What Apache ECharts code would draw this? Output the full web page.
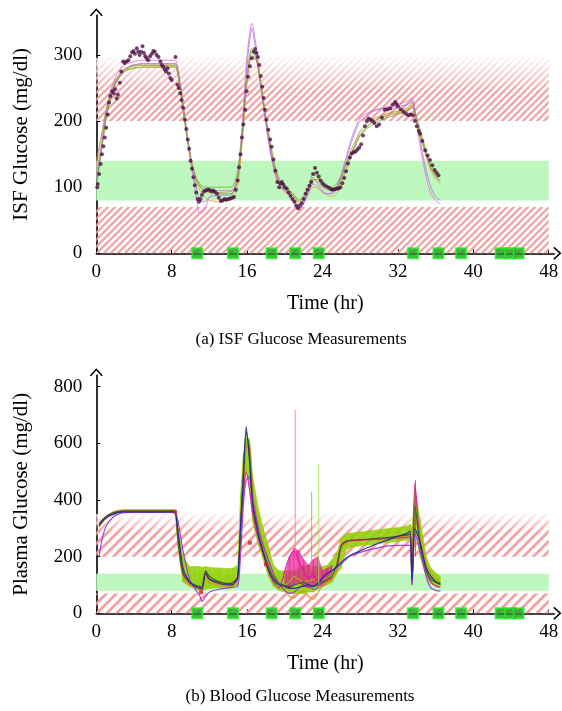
<!DOCTYPE html>
<html><head><meta charset="utf-8">
<script src="https://cdn.jsdelivr.net/npm/echarts@6/dist/echarts.min.js"></script>
<style>html,body{margin:0;padding:0;background:#fff}#c{width:562px;height:711px}</style>
</head><body><div id="c"></div>
<script>
// ---------- DATA ----------
const xTicks = [0, 8, 16, 24, 32, 40, 48];
const isfTicks = [0, 100, 200, 300];
const plasmaTicks = [0, 200, 400, 600, 800];
const redBandLow = [0, 70];
const redBandHighIsf = [200, 295];
const redBandHighPlasma = [200, 350];
const greenBand = [80, 140];
const mealTimes = [10.7, 14.5, 18.6, 21.1, 23.6, 33.6, 36.3, 38.7, 42.9, 43.9, 44.8];

// (a) ISF measured points
const isfMeasT = [0.1,0.15,0.3,0.45,0.6,0.75,0.9,1.05,1.2,1.35,1.5,1.7,1.85,2.0,2.15,2.3,2.5,2.65,2.85,3.0,3.2,3.4,3.6,3.8,3.95,4.1,4.3,4.45,4.6,4.75,4.9,5.05,5.2,5.35,5.5,5.7,5.9,6.05,6.2,6.4,6.6,6.8,6.95,7.1,7.25,7.4,7.55,7.7,7.85,8.0,8.4,8.6,8.75,8.9,9.05,9.2,9.4,9.55,9.7,9.85,10.0,10.15,10.3,10.45,10.6,10.75,10.9,11.05,11.2,11.4,11.6,11.8,12.0,12.2,12.4,12.6,12.8,13.0,13.2,13.4,13.6,13.8,14.0,14.2,14.4,14.6,14.8,15.0,15.15,15.3,15.45,15.6,15.8,15.95,16.1,16.3,16.5,16.7,16.85,17.0,17.15,17.3,17.45,17.6,17.75,17.9,18.05,18.25,18.45,18.6,18.8,19.0,19.2,19.4,19.55,19.7,19.85,20.0,20.2,20.4,20.6,20.8,21.0,21.2,21.4,21.6,21.8,22.0,22.2,22.4,22.6,22.8,23.0,23.2,23.4,23.6,23.8,24.0,24.2,24.45,24.7,24.9,25.1,25.3,25.5,25.7,25.9,26.1,26.3,26.5,26.7,26.9,27.1,27.3,27.5,27.7,27.9,28.1,28.3,28.5,28.7,28.9,29.1,29.3,29.5,29.75,30.0,30.3,30.6,30.9,31.2,31.45,31.7,31.85,32.0,32.3,32.6,32.85,33.1,33.35,33.6,33.8,34.0,34.2,34.35,34.6,34.9,35.15,35.4,35.65,35.9,36.1,36.3];
const isfMeasV = [100,105,120,135,150,162,175,190,210,228,238,245,242,248,234,240,258,275,290,288,290,292,298,304,306,302,310,305,300,305,313,303,298,295,292,298,302,306,305,300,297,290,285,282,278,275,280,272,265,262,297,255,250,242,232,220,202,188,172,158,140,128,115,103,92,82,78,82,88,93,95,96,96,94,95,93,90,84,79,80,82,81,82,83,84,85,96,110,130,150,175,195,217,245,267,283,295,305,309,303,297,285,268,252,235,217,202,187,172,161,142,125,108,100,106,108,104,100,98,92,87,82,78,72,68,72,76,82,90,96,102,108,120,129,122,116,110,106,103,101,99,97,96,97,98,98,100,106,114,124,136,145,151,153,154,157,160,165,178,192,200,204,202,200,197,192,195,205,217,218,219,225,229,226,222,218,214,211,209,210,209,200,192,185,181,170,156,148,141,133,126,122,118];

// (a) ISF model traces
const tModel = [0,0.5,1,1.5,2,2.5,3,4,5,6,7,8,8.4,9,9.5,10,10.5,11,11.5,12,13,14,14.5,15,15.5,16,16.5,17,17.5,18,18.5,19,19.5,20,20.5,21,21.5,22,22.5,23,23.5,24,24.5,25,25.5,26,26.5,27,27.5,28,29,30,31,32,33,33.5,34,34.5,35,35.5,36,36.5];
const isfModelA = [100,150,200,235,255,268,277,283,284,284,284,284,284,240,190,145,115,100,95,92,90,90,92,110,180,270,310,295,250,200,160,125,105,98,92,85,75,82,95,110,112,105,100,98,100,115,135,155,170,185,200,207,212,215,220,228,200,175,150,130,118,110];
const isfModelB = [130,170,210,240,258,270,276,280,281,281,281,281,281,235,185,140,110,95,85,80,78,80,82,100,170,260,300,290,245,195,155,120,100,92,88,82,72,80,92,100,98,92,88,86,90,105,125,145,162,178,195,205,210,213,218,224,195,170,145,125,112,105];
const isfModelC = [120,160,210,245,265,278,285,290,292,292,292,292,292,250,195,140,95,60,65,85,95,95,96,120,200,300,348,310,250,195,150,118,100,95,90,80,65,75,95,115,105,95,90,90,95,115,140,165,185,200,212,218,222,225,230,235,195,150,115,90,80,75];
const isfModelD = [110,155,205,238,258,270,279,285,287,287,287,287,287,243,192,143,105,80,78,85,88,88,90,115,190,285,340,300,248,198,152,120,102,95,88,78,68,76,90,105,100,93,90,92,100,120,145,170,190,205,214,218,220,222,225,230,200,160,125,100,85,80];
const isfModelE = [105,150,200,235,255,267,275,280,282,282,282,282,282,238,188,145,118,105,100,100,100,100,102,125,185,265,305,292,252,205,165,130,110,100,95,88,80,88,100,120,115,105,100,100,105,118,135,150,165,178,192,200,206,210,215,220,205,180,155,135,122,115];
const isfModelF = [140,175,215,242,260,272,279,285,286,286,286,286,286,245,195,148,118,102,96,94,92,93,95,112,175,262,298,292,255,205,162,128,108,100,95,88,78,85,98,112,108,100,96,95,98,110,128,148,165,180,196,204,209,212,216,222,198,172,148,128,116,108];

// (b) Plasma traces
const tPlasma = [0.3,0.6,1,1.5,2,2.5,3,4,5,6,7,8,8.35,8.7,9.2,9.9,10.5,11,11.2,11.6,12,13,14,14.5,15,15.3,15.6,15.9,16.2,16.6,17.2,17.7,18.25,18.8,19.4,20,20.5,21,21.5,22,22.5,23,23.5,24,24.5,25,25.5,26,26.5,27,28,29,30,31,32,33,33.3,33.5,33.8,34.35,35,35.5,36.1,36.5];
const plasmaNavy = [310,322,335,345,352,357,358,358,358,358,358,358,358,280,160,110,95,88,85,140,120,105,100,102,125,300,470,659,560,380,275,215,155,118,100,95,90,88,92,96,100,95,105,125,140,150,165,180,195,205,220,235,248,260,272,282,290,120,300,250,160,130,110,105];
const plasmaPurple = [200,260,305,330,345,352,355,356,356,356,356,356,356,320,220,120,85,60,41,60,75,85,90,92,95,200,380,470,482,400,300,240,190,140,105,80,70,75,90,100,95,85,90,120,140,150,160,175,190,205,215,225,232,238,240,240,240,100,280,220,130,90,80,78];
const plasmaDarkGreen = [315,328,340,350,356,360,362,362,362,362,362,362,362,250,140,110,100,95,92,150,130,112,105,108,130,310,500,640,590,400,280,220,165,125,105,98,95,100,105,110,100,95,100,110,120,130,170,240,255,258,260,262,265,268,272,276,280,110,380,240,150,120,108,102];
const plasmaOrange = [305,320,338,352,360,364,365,365,365,365,365,365,365,240,130,100,88,80,72,130,110,100,95,98,120,280,440,580,600,420,300,240,175,130,100,80,60,55,70,80,60,50,70,100,110,120,150,230,250,255,258,262,265,268,272,276,282,100,360,260,170,130,110,100];
const plasmaMagenta = [310,325,340,350,356,358,358,358,358,358,358,358,358,260,145,108,95,90,88,150,120,110,105,110,130,290,430,500,450,350,260,210,150,110,90,150,200,220,180,150,120,140,100,130,145,150,160,240,252,256,258,260,262,264,266,268,270,105,460,250,150,110,95,92];
const plasmaOlive = [312,326,340,351,357,360,361,361,361,361,361,361,361,230,135,105,92,86,84,145,125,108,100,103,125,320,520,600,615,450,320,250,180,130,105,100,110,130,120,110,115,120,110,115,125,135,175,245,255,258,260,262,264,266,270,274,278,115,420,280,180,140,120,110];
const plasmaEnvLow = [305,318,332,345,352,356,358,358,358,358,358,358,358,230,110,95,88,80,80,85,88,90,90,92,100,250,400,500,470,320,240,190,130,95,80,75,70,70,70,70,75,75,85,95,100,110,140,160,225,232,238,242,246,250,254,258,262,100,300,200,130,105,95,95];
const plasmaEnvHigh = [311,324,338,351,358,362,364,364,364,364,364,364,364,300,200,165,165,165,162,165,162,160,158,160,170,420,560,620,610,480,370,300,240,170,150,150,150,150,160,165,170,165,165,165,170,190,210,265,280,283,287,291,295,299,303,308,315,300,440,330,200,160,140,130];
const tMagentaEnv = [20,20.5,21,21.5,22,22.5,23,23.5,24,24.5,25];
const magentaEnvLow = [90,85,100,110,95,90,95,100,95,110,120];
const magentaEnvHigh = [130,200,230,220,190,170,190,200,150,160,170];
const spikeT = [21.1, 22.85, 23.6, 33.85];
const spikeLow = [150, 150, 100, 200];
const spikeHigh = [718, 429, 529, 470];
const plasmaMeasT = [8.35, 11.1, 16.3, 18.0];
const plasmaMeasV = [358, 74, 249, 173];

// ---------- STYLE ----------
const FONT = 'Liberation Serif';
function hatch(s, w) {
  const c = document.createElement('canvas');
  c.width = s; c.height = s;
  const g = c.getContext('2d');
  g.strokeStyle = '#f4a0a0'; g.lineWidth = w; g.lineCap = 'square';
  g.beginPath();
  g.moveTo(0, s); g.lineTo(s, 0);
  g.moveTo(-s/4, s/4); g.lineTo(s/4, -s/4);
  g.moveTo(3*s/4, 5*s/4); g.lineTo(5*s/4, 3*s/4);
  g.stroke();
  return { image: c, repeat: 'repeat' };
}
const hatchTop = hatch(7, 2.2);
const hatchBottom = hatch(10, 2.8);
const fade = { type: 'linear', x: 0, y: 0, x2: 0, y2: 1, colorStops: [
  { offset: 0, color: 'rgba(255,255,255,0.92)' }, { offset: 1, color: 'rgba(255,255,255,0)' }] };
const chevron = 'path://M0,11 L10,0 L20,11 L18,12.5 L10,3.5 L2,12.5 Z';

function bands(hiBand, fadeFrom, pat) {
  return {
    type: 'line', data: [], z: 1, silent: true,
    markArea: { silent: true, z: 1, data: [
      [{ xAxis: 0, yAxis: redBandLow[0], itemStyle: { color: pat } }, { xAxis: 48, yAxis: redBandLow[1] }],
      [{ xAxis: 0, yAxis: hiBand[0], itemStyle: { color: pat } }, { xAxis: 48, yAxis: hiBand[1] }],
      [{ xAxis: 0, yAxis: fadeFrom, itemStyle: { color: fade } }, { xAxis: 48, yAxis: hiBand[1] }],
      [{ xAxis: 0, yAxis: greenBand[0], itemStyle: { color: '#bff8bf' } }, { xAxis: 48, yAxis: greenBand[1] }]
    ] }
  };
}
function axisX(idx) {
  return {
    gridIndex: idx, type: 'value', min: 0, max: 48.6,
    name: 'Time (hr)', nameLocation: 'middle', nameGap: 40,
    nameTextStyle: { fontFamily: FONT, fontSize: 20, color: '#000' },
    axisLine: { lineStyle: { color: '#000', width: 1.6 }, symbol: ['none', chevron], symbolSize: [13, 9], symbolOffset: [0, 3] },
    axisTick: { customValues: xTicks, inside: true, length: 4, lineStyle: { color: '#000' } },
    axisLabel: { customValues: xTicks, margin: 9, fontFamily: FONT, fontSize: 19, color: '#000' },
    splitLine: { show: false }
  };
}
function axisY(idx, max, ticks, name) {
  return {
    gridIndex: idx, type: 'value', min: 0, max: max,
    name: name, nameLocation: 'middle', nameGap: 64,
    nameTextStyle: { fontFamily: FONT, fontSize: 21, color: '#000' },
    axisLine: { show: true, lineStyle: { color: '#000', width: 1.6 }, symbol: ['none', chevron], symbolSize: [13, 9], symbolOffset: [0, 3] },
    axisTick: { show: true, customValues: ticks, inside: true, length: 4, lineStyle: { color: '#000' } },
    axisLabel: { customValues: ticks, margin: 14, fontFamily: FONT, fontSize: 19, color: '#000' },
    splitLine: { show: false }
  };
}
const pair = (ts, vs) => ts.map((t, i) => [t, vs[i]]);
function trace(data, color, xi, w, op) {
  return { type: 'line', xAxisIndex: xi, yAxisIndex: xi, data: data, showSymbol: false, smooth: 0.25, z: 3,
    lineStyle: { color: color, width: w || 1, opacity: op || 0.85 }, silent: true };
}
function meals(xi) {
  return { type: 'scatter', xAxisIndex: xi, yAxisIndex: xi, data: mealTimes.map(t => [t, 0]), symbol: 'rect', symbolSize: 10,
    clip: false, z: 10, silent: true, itemStyle: { color: '#239a23', borderColor: '#18ee18', borderWidth: 2 } };
}
// envelope between low/high arrays drawn as quads through the axes
function envelope(ts, lo, hi, color, opacity) {
  const segs = [];
  for (let i = 0; i < ts.length - 1; i++) segs.push([ts[i], lo[i], hi[i], ts[i + 1], lo[i + 1], hi[i + 1]]);
  return {
    type: 'custom', xAxisIndex: 1, yAxisIndex: 1, data: segs, z: 2, silent: true,
    encode: { x: [0, 3], y: [1, 2, 4, 5] },
    renderItem: function (params, api) {
      const a = api.coord([api.value(0), api.value(1)]);
      const b = api.coord([api.value(0), api.value(2)]);
      const c = api.coord([api.value(3), api.value(5)]);
      const d = api.coord([api.value(3), api.value(4)]);
      return { type: 'polygon', shape: { points: [a, b, c, d] },
        style: { fill: color, stroke: color, lineWidth: 0.6, opacity: opacity } };
    }
  };
}

const isfModels = [
  [isfModelA, '#8c9a2a'], [isfModelB, '#f0a040'], [isfModelC, '#e070d0'],
  [isfModelD, '#a070f0'], [isfModelE, '#60b830'], [isfModelF, '#b89060']];
const plasmaTraces = [
  [plasmaOlive, '#b0b010'], [plasmaOrange, '#e08a20'], [plasmaMagenta, '#e0159e'],
  [plasmaDarkGreen, '#226622'], [plasmaPurple, '#9b30e0'], [plasmaNavy, '#1a2a90']];

const series = [];
const b0 = bands(redBandHighIsf, 245, hatchTop); b0.xAxisIndex = 0; b0.yAxisIndex = 0; series.push(b0);
const b1 = bands(redBandHighPlasma, 285, hatchBottom); b1.xAxisIndex = 1; b1.yAxisIndex = 1; series.push(b1);
isfModels.forEach(m => series.push(trace(pair(tModel, m[0]), m[1], 0, 1, 0.8)));
series.push({ type: 'scatter', xAxisIndex: 0, yAxisIndex: 0, data: pair(isfMeasT, isfMeasV), symbolSize: 4, z: 5, silent: true,
  itemStyle: { color: '#4d0f45' } });
series.push(envelope(tPlasma, plasmaEnvLow, plasmaEnvHigh, '#8fcf00', 0.85));
series.push(envelope(tMagentaEnv, magentaEnvLow, magentaEnvHigh, '#e8159a', 0.7));
plasmaTraces.forEach(m => series.push(trace(pair(tPlasma, m[0]), m[1], 1, 1.2, 0.9)));
const spikeColors = ['#f07090', '#70c020', '#a0e040', '#e0159e'];
spikeT.forEach((t, i) => series.push({ type: 'line', xAxisIndex: 1, yAxisIndex: 1, data: [[t, spikeLow[i]], [t, spikeHigh[i]]], showSymbol: false, z: 3, silent: true,
  lineStyle: { color: spikeColors[i], width: 1, opacity: 0.8 } }));
series.push({ type: 'scatter', xAxisIndex: 1, yAxisIndex: 1, data: pair(plasmaMeasT, plasmaMeasV), symbol: 'rect', symbolSize: 4, z: 5, silent: true, itemStyle: { color: '#dd2222' } });
series.push(meals(0)); series.push(meals(1));

const chart = echarts.init(document.getElementById('c'), null, { renderer: 'canvas' });
chart.setOption({
  animation: false,
  backgroundColor: '#fff',
  grid: [
    { left: 96.3, top: 15.3, width: 458.1, height: 238 },
    { left: 96.3, top: 375.3, width: 458.1, height: 238 }
  ],
  xAxis: [axisX(0), axisX(1)],
  yAxis: [axisY(0, 360, isfTicks, 'ISF Glucose (mg/dl)'), axisY(1, 840, plasmaTicks, 'Plasma Glucose (mg/dl)')],
  graphic: [
    { type: 'text', x: 301, y: 340, style: { text: '(a) ISF Glucose Measurements', fontFamily: FONT, fontSize: 17, fill: '#000', align: 'center', verticalAlign: 'middle' } },
    { type: 'text', x: 300, y: 697, style: { text: '(b) Blood Glucose Measurements', fontFamily: FONT, fontSize: 17, fill: '#000', align: 'center', verticalAlign: 'middle' } }
  ],
  series: series
});
</script>
</body></html>
